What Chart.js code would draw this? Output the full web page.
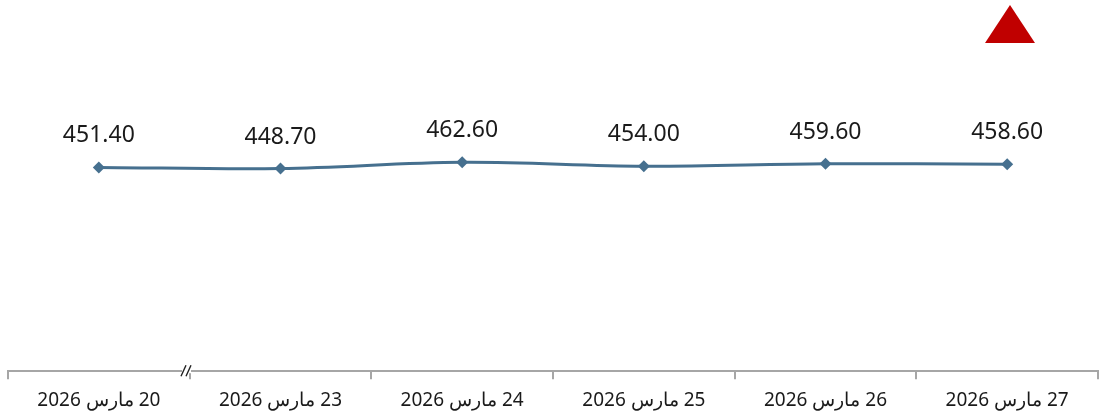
<!DOCTYPE html>
<html lang="ar">
<head>
<meta charset="utf-8">
<title>Price chart</title>
<script src="https://cdn.jsdelivr.net/npm/chart.js@4.4.1/dist/chart.umd.min.js"></script>
<style>
  html, body { margin: 0; padding: 0; background: #fff; }
  #wrap { width: 1106px; height: 412px; position: relative; }
</style>
</head>
<body>
<div id="wrap"><canvas id="chart" dir="rtl"></canvas></div>
<script>
// data
var dates = ['20 مارس 2026', '23 مارس 2026', '24 مارس 2026', '25 مارس 2026', '26 مارس 2026', '27 مارس 2026'];
var prices = [451.40, 448.70, 462.60, 454.00, 459.60, 458.60];

var lineColor = '#46708f';

// value labels above each point
var valueLabels = {
  id: 'valueLabels',
  afterDatasetsDraw: function(chart) {
    var ctx = chart.ctx;
    var meta = chart.getDatasetMeta(0);
    ctx.save();
    ctx.font = '23px "Noto Sans", "Open Sans", sans-serif';
    ctx.fillStyle = '#1a1a1a';
    ctx.textAlign = 'center';
    ctx.textBaseline = 'alphabetic';
    meta.data.forEach(function(pt, i) {
      ctx.fillText(prices[i].toFixed(2), pt.x, pt.y - 25);
    });
    ctx.restore();
  }
};

// axis break mark and the red up-arrow indicator
var extras = {
  id: 'extras',
  afterDraw: function(chart) {
    var ctx = chart.ctx;
    var y = chart.scales.x.top;
    ctx.save();
    ctx.fillStyle = '#fff';
    ctx.fillRect(182, y - 2, 9, 4);
    ctx.strokeStyle = '#222';
    ctx.lineWidth = 1.4;
    ctx.beginPath();
    ctx.moveTo(181, y + 5); ctx.lineTo(186, y - 6);
    ctx.moveTo(186, y + 5); ctx.lineTo(191, y - 6);
    ctx.stroke();

    ctx.fillStyle = '#c00000';
    ctx.beginPath();
    ctx.moveTo(1010, 5);
    ctx.lineTo(1035, 43);
    ctx.lineTo(985, 43);
    ctx.closePath();
    ctx.fill();
    ctx.restore();
  }
};

new Chart(document.getElementById('chart'), {
  type: 'line',
  data: {
    labels: dates,
    datasets: [{
      data: prices,
      borderColor: lineColor,
      backgroundColor: lineColor,
      borderWidth: 3,
      tension: 0.35,
      pointStyle: 'rectRot',
      pointRadius: 6,
      pointBorderWidth: 0
    }]
  },
  options: {
    responsive: true,
    maintainAspectRatio: false,
    animation: false,
    layout: { padding: { top: 10, left: 8, right: 8, bottom: -10 } },
    plugins: { legend: { display: false }, tooltip: { enabled: false } },
    scales: {
      y: { display: false, min: 0, max: 800 },
      x: {
        offset: true,
        border: { display: true, color: '#a6a6a6', width: 2 },
        grid: { offset: true, drawOnChartArea: false, drawTicks: true, tickLength: 8, color: '#a6a6a6', lineWidth: 2 },
        ticks: {
          color: '#1a1a1a',
          padding: 10,
          maxRotation: 0,
          font: { size: 19, family: '"Noto Sans", "Open Sans", sans-serif' }
        }
      }
    }
  },
  plugins: [valueLabels, extras]
});
</script>
</body>
</html>
